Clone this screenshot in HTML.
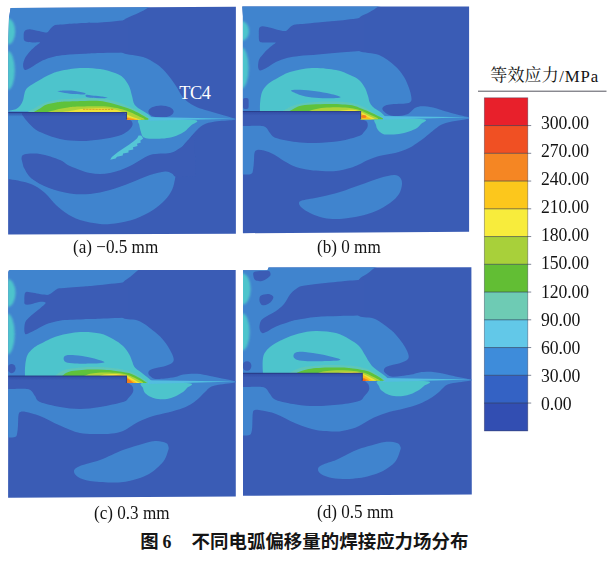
<!DOCTYPE html>
<html><head><meta charset="utf-8"><title>fig6</title>
<style>
html,body{margin:0;padding:0;background:#fff;}
body{width:615px;height:562px;overflow:hidden;position:relative;font-family:"Liberation Serif",serif;color:#111;}
svg{position:absolute;left:0;top:0;display:block}
.cap{position:absolute;white-space:nowrap;transform-origin:0 50%;font-size:18.5px;line-height:20px;height:20px;color:#141414}
.lg{position:absolute;white-space:nowrap;transform-origin:0 50%;transform:scaleX(0.95);font-size:18.6px;line-height:18px;height:18px;left:541.4px;letter-spacing:-0.1px;color:#141414}
</style></head><body>
<svg width="615" height="562" viewBox="0 0 615 562">
<defs>
<filter id="b" x="-2%" y="-2%" width="104%" height="104%"><feGaussianBlur stdDeviation="0.7"/></filter>
<linearGradient id="ug" x1="0" y1="0" x2="0" y2="1"><stop offset="0" stop-color="#2f49a2" stop-opacity="0.85"/><stop offset="1" stop-color="#2f49a2" stop-opacity="0"/></linearGradient>
<filter id="b3" x="-60%" y="-20%" width="220%" height="140%"><feGaussianBlur stdDeviation="1.3"/></filter>
<filter id="b2" x="-5%" y="-20%" width="110%" height="140%"><feGaussianBlur stdDeviation="0.75"/></filter>

<clipPath id="ca"><path d="M10.6 8.1L235.9 6.7L235.9 233.7L8.1 234.6L8.3 40L9 18Z"/></clipPath>
<clipPath id="cb"><path d="M242.3 6.5L469.1 6.5L469.1 231.8L242.9 233.2L242.9 16Z"/></clipPath>
<clipPath id="cc"><path d="M8.3 272.3Q8.3 270.1 10.5 270.1L235.7 270L235.8 496.5L8.1 497.8Z"/></clipPath>
<clipPath id="cd"><path d="M243 270.3L267.5 270.3L268.6 267.4L471.4 267.3L471.8 494.4L243 495.7Z"/></clipPath>
</defs>
<g clip-path="url(#ca)">
<rect x="6" y="4.6" width="232" height="232.1" fill="#3a5cb5"/>
<g filter="url(#b)">
<path d="M-5 -5C7.5 -35.7 43.7 -6 70 -5C96.3 -4 140.3 -1.3 153 1C165.7 3.3 149 6.8 146 9C143 11.2 138.8 12.6 135 14.5C131.2 16.4 125.8 17.9 123 20.5C120.2 23.1 118.8 25.9 118 30C117.2 34.1 117.2 41.2 118 45C118.8 48.8 118.8 51 123 53C127.2 55 137.4 55.2 143 57C148.6 58.8 152.8 61.6 156.5 64C160.2 66.4 162.5 68.9 165 71.5C167.5 74.1 169.4 76.8 171.5 79.5C173.6 82.2 175.4 85 177.3 88C179.2 91 180.8 94.9 183 97.5C185.2 100.1 188.2 102.2 190.5 103.8C192.8 105.4 194.1 106 197 107.2C199.9 108.4 204.2 109.6 208 110.8C211.8 112 215.8 113.1 220 114.3C224.2 115.5 230.2 117.3 233 118.1C235.8 118.9 237 118.7 237 119C237 119.3 236.7 119.5 233 119.9C229.3 120.3 220 120.7 215 121.5C210 122.3 206.3 123.2 203 125C199.7 126.8 197.3 129.7 195 132C192.7 134.3 191 136.7 189 139C187 141.3 184.7 142.8 183 146C181.3 149.2 180.2 154 179 158C177.8 162 176.7 166.5 176 170C175.3 173.5 175.7 175.7 175 179C174.3 182.3 173.7 186.5 172 190C170.3 193.5 168.2 196.7 165 200C161.8 203.3 158 206.8 153 210C148 213.2 141.3 216.8 135 219C128.7 221.2 120.8 222.7 115 223.5C109.2 224.3 105.8 224.6 100 224C94.2 223.4 85.7 221.8 80 220C74.3 218.2 70 215.5 66 213C62 210.5 59 207.8 56 205C53 202.2 50.7 198.7 48 196C45.3 193.3 43.3 191.2 40 189C36.7 186.8 33.3 184.7 28 183C22.7 181.3 13.5 179.7 8 179C2.5 178.3 -2.8 209.7 -5 179C-7.2 148.3 -17.5 25.7 -5 -5Z" fill="#4184ce"/>
<path d="M128 20C123.3 20.4 107.3 22.1 100 22.6C92.7 23.1 89.8 22.8 84 23.1C78.2 23.4 69.7 23.9 65.2 24.2C60.7 24.5 58.9 24.6 57 24.8C55.1 25.1 54.9 25.1 53.8 25.7C52.7 26.3 51.6 27.5 50.6 28.6C49.6 29.7 48.6 31.7 47.5 32.3C46.4 32.9 45.4 32.5 44 32.3C42.6 32.1 41.2 31.5 39 31C36.8 30.5 33.1 29.6 31 29.4C28.9 29.2 27.6 29.4 26.5 29.8C25.4 30.2 24.6 30.9 24.1 32C23.6 33.1 23.7 35.1 23.7 36.5C23.7 37.9 23.6 39.7 24.3 40.6C25 41.5 26.4 41.7 28 42C29.6 42.3 32 42.4 34 42.5C36 42.6 39.4 42.1 39.9 42.5C40.4 42.9 37.9 44.2 37 45C36.1 45.8 35.9 45.7 34.5 47C33.1 48.3 30.4 50.8 28.8 52.7C27.2 54.6 25.7 56.6 24.8 58.4C23.9 60.2 23.4 61.9 23.2 63.5C23 65.1 23.1 66.9 23.5 68C23.9 69.1 24.2 70 25.5 69.9C26.8 69.8 28.2 69 31 67.5C33.8 66 38.6 62.4 42.4 60.6C46.2 58.8 50 57.6 53.8 56.7C57.6 55.8 60.2 55.5 65.2 55C70.2 54.5 78.2 54.1 84 53.8C89.8 53.5 92.7 53.2 100 53C107.3 52.8 123.3 52.6 128 52.5Z" fill="#3a5cb5"/>
<path d="M22 112.5L22 114.5C22.7 115.4 24.3 118 26 120C27.7 122 29.7 124.5 32 126.5C34.3 128.5 35.3 129.9 40 132C44.7 134.1 53.3 137.5 60 139C66.7 140.5 73.3 140.9 80 141C86.7 141.1 93.7 140.3 100 139.5C106.3 138.7 113.3 137.4 118 136C122.7 134.6 125.6 132.8 128 131C130.4 129.2 132 126.7 132.5 125C133 123.3 132 121.5 131 120.6C130 119.7 127.2 119.9 126.5 119.8L126.5 112.5Z" fill="#3a5cb5"/>
<path d="M21.5 159C21.9 158.2 20.9 155.3 24 154.5C27.1 153.7 34 153.1 40 154C46 154.9 55 158 60 160C65 162 65 163.8 70 166C75 168.2 83.3 171.8 90 173C96.7 174.2 103.3 174.2 110 173C116.7 171.8 123.3 169 130 166C136.7 163 143.3 157.2 150 155C156.7 152.8 165 154.2 170 153C175 151.8 177.2 149.8 180 148C182.8 146.2 184.7 144.3 187 142C189.3 139.7 192.8 135.3 194 134L196 176L182 177C180.8 176.9 176.7 177.1 175 176.5C173.3 175.9 173.7 174.3 172 173.5C170.3 172.7 168.7 171.2 165 171.5C161.3 171.8 155.8 173.1 150 175C144.2 176.9 136.7 180.5 130 183C123.3 185.5 116.7 188.2 110 190C103.3 191.8 96.7 193.4 90 194C83.3 194.6 76.8 194.5 70 193.5C63.2 192.5 55.4 190.5 49 188C42.6 185.5 35.8 182 31.5 178.5C27.2 175 24.8 168.9 23.5 167Z" fill="#3a5cb5"/>
<ellipse cx="161" cy="111.6" rx="12.6" ry="6.2" fill="#3a5cb5"/>
<path d="M7 111.3C7.7 111.1 9.8 110.6 11.3 110.2C12.8 109.8 14.7 109.7 16.2 108.9C17.7 108.1 19.1 107.1 20.3 105.6C21.5 104.1 22.4 101.9 23.1 100C23.8 98.1 23.8 96.1 24.3 94.3C24.8 92.5 24.9 90.9 26 89.4C27.1 87.9 28.7 86.8 30.8 85.3C33 83.8 35.7 82.2 38.9 80.4C42.1 78.6 46.5 76.1 50 74.5C53.5 72.9 55 72.1 60 71C65 69.9 73.3 68.3 80 68C86.7 67.7 94.2 68.2 100 69C105.8 69.8 111.2 71.6 115 73C118.8 74.4 120.7 75.3 123 77.5C125.3 79.7 127.5 82.9 129 86C130.5 89.1 131.2 93.1 132 96C132.8 98.9 133 101.5 134 103.5C135 105.5 136.5 106.8 138 108C139.5 109.2 141.5 110.1 143 111C144.5 111.9 145.6 112.5 147 113.5C148.4 114.5 150.3 116 151.4 117C152.5 118 153.2 118.9 153.6 119.3L153.6 119.8L126.5 119.8L126.5 112.5Z" fill="#4ec4cc"/>
<path d="M139.5 119.5C142.9 118.5 153.2 119.3 160 119.3C166.8 119.3 173.8 119.3 180 119.6C186.2 119.8 195.2 119.8 197 120.8C198.8 121.8 193.1 123.7 191 125.5C188.9 127.3 186.8 129.9 184.6 131.5C182.4 133.1 180.2 134.1 178 135C175.8 135.9 174.2 136.6 171.5 137.2C168.8 137.8 165 138.3 162 138.6C159 138.9 156.4 138.9 153.7 138.8C151 138.7 147.8 138.6 146 138.2C144.2 137.8 143.5 137.7 142.6 136.6C141.7 135.5 141.4 133.4 140.8 131.5C140.2 129.6 139.5 127 139.3 125C139.1 123 136.1 120.5 139.5 119.5Z" fill="#4ec4cc"/>
<path d="M141.2 135.5L143.2 138.6L140.2 140.8L140.9 142.6L137 143.8L137.5 146L133 147.2L133.3 149.4L128.5 150.6L128.5 152.6L123 153.5L122.7 155.4L117 156.7L115.6 158.6L110.2 159.8L111.8 157L118 152L124 148L129.3 144.5L134 141L137.2 138.2L138.6 135.5Z" fill="#55c7d6"/>
<path d="M148 116.9L234.5 118.7L148 120.7Z" fill="#52bde0"/>
<path d="M57.6 91.3C57.6 90.9 62.1 90.6 65 90.5C67.9 90.4 71.7 90.5 75 90.9C78.3 91.3 83.3 92.4 84.8 93C86.3 93.6 85.8 94.3 84.2 94.5C82.6 94.7 78.2 94.4 75 94.1C71.8 93.8 67.9 93.4 65 92.9C62.1 92.4 57.6 91.7 57.6 91.3Z" fill="#4184ce"/>
<path d="M86 94.7C86.9 94.5 89.7 95.2 92 95.4C94.3 95.7 97.4 95.8 100 96.2C102.6 96.6 107.6 97.4 107.6 97.7C107.6 98 102.6 98.3 100 98.3C97.4 98.3 94.2 97.9 92 97.7C89.8 97.5 87.5 97.4 86.5 96.9C85.5 96.4 85.1 95 86 94.7Z" fill="#4184ce"/>
<ellipse cx="8" cy="31.5" rx="7.2" ry="13" fill="#4ec4cc" filter="url(#b3)"/>
<ellipse cx="7.6" cy="70.5" rx="7.2" ry="19.5" fill="#4ec4cc" filter="url(#b3)"/>
<g filter="url(#b2)">
<path d="M27 112.5C28.5 111.7 32.8 109.2 36 107.5C39.2 105.8 42 103.9 46 102.6C50 101.3 54.3 100.3 60 99.6C65.7 98.9 73.3 98.5 80 98.4C86.7 98.3 94.7 98.4 100 98.8C105.3 99.2 108 99.7 112 100.6C116 101.5 120.3 103 124 104.4C127.7 105.8 131 107.3 134 108.8C137 110.3 139.4 111.6 142 113.2C144.6 114.8 148.2 117.5 149.5 118.4L149.5 119.8L126.5 119.8L126.5 112.5L27 112.5Z" fill="#5fc7b8"/>
<path d="M33 112.5C34.2 111.8 37.8 109.7 40 108.4C42.2 107.1 43.3 105.8 46 104.8C48.7 103.8 52.8 103.1 56 102.6C59.2 102.1 60.7 101.9 65.5 101.6C70.3 101.3 79.2 101 85 100.9C90.8 100.8 95.9 100.7 100 101C104.1 101.3 105.8 101.9 109.5 102.8C113.2 103.7 118.6 105.2 122.5 106.4C126.4 107.6 129.8 108.8 133 110.2C136.2 111.6 139.4 113.5 142 114.9C144.6 116.3 147.2 118 148.3 118.6L148.3 119.8L126.5 119.8L126.5 112.5L33 112.5Z" fill="#5fc23a"/>
<path d="M46 112.5C47 112.2 49.8 111.4 52 110.8C54.2 110.2 56.3 109.5 59 108.9C61.7 108.3 64.8 107.8 68 107.4C71.2 107 73.2 106.8 78.5 106.6C83.8 106.4 94.4 106.2 100 106.3C105.6 106.4 108.3 106.7 112 107.2C115.7 107.7 118.8 108.3 122 109.2C125.2 110.1 128.3 111.3 131 112.4C133.7 113.5 135.8 114.7 138 115.8C140.2 116.9 143.4 118.4 144.5 118.9L144.5 119.8L126.5 119.8L126.5 112.5L46 112.5Z" fill="#aed338"/>
<path d="M60 112.5C61 112.3 63.8 111.9 66 111.6C68.2 111.2 69.8 110.9 73 110.4C76.2 109.9 80.5 109.2 85 108.8C89.5 108.4 95.8 108.2 100 108.2C104.2 108.2 107 108.4 110 108.7C113 109 115.7 109.6 118 110.3C120.3 111 122.2 111.8 124 112.7C125.8 113.6 127.3 114.6 129 115.4C130.7 116.2 132 116.7 134 117.4C136 118.1 139.8 119.1 141 119.4L141 119.8L126.5 119.8L126.5 112.5L60 112.5Z" fill="#efe338"/>
<path d="M126.4 116.4C127 116.6 128.7 117.1 130 117.5C131.3 117.9 132.7 118.2 134 118.6C135.3 118.9 137.3 119.4 138 119.6L138 119.8L126.5 119.8L126.5 112.5L126.4 112.5Z" fill="#fbbf1c"/>
<path d="M126.4 117.9C127 118 128.7 118.2 130 118.4C131.3 118.6 133 119 134 119.2C135 119.4 135.7 119.6 136 119.7L136 119.8L126.5 119.8L126.5 112.5L126.4 112.5Z" fill="#f3801f"/>
</g>
<path d="M83 109.3L114 109.5" stroke="#cf8a22" stroke-width="0.9" stroke-dasharray="2.4 0.7" fill="none" opacity="0.8"/>
</g>
<rect x="8.2" y="112.5" width="118.3" height="4.2" fill="url(#ug)"/>
<path d="M8.2 112.5L126.5 112.5L126.5 119.8" fill="none" stroke="#283a86" stroke-width="1.1" stroke-opacity="0.9"/>
</g>
<g clip-path="url(#cb)">
<rect x="240.2" y="4.4" width="231" height="230.9" fill="#3a5cb5"/>
<g filter="url(#b)">
<path d="M230 -5C241.7 -34.9 274.7 -6 300 -5C325.3 -4 369.3 -1.2 382 1C394.7 3.2 378.3 6 376 8C373.7 10 370.8 11.3 368 13C365.2 14.7 361.3 15.2 359 18C356.7 20.8 354.8 26 354 30C353.2 34 353.2 38.5 354 42C354.8 45.5 354.8 48.8 359 51C363.2 53.2 373 52.5 379 55C385 57.5 390.8 62.3 395 66C399.2 69.7 401.7 73.3 404 77C406.3 80.7 407.8 84.7 409 88C410.2 91.3 411 94.7 411.3 97C411.6 99.3 411.7 100.7 410.6 101.8C409.6 102.9 408.1 103.2 405 103.6C401.9 104 395.2 103.9 392 104.2C388.8 104.5 387.1 104.7 385.5 105.4C383.9 106.1 382.6 107.3 382.4 108.3C382.1 109.3 383.1 110.6 384 111.6C384.9 112.6 386.4 113.8 388 114.5C389.6 115.2 391.3 115.9 393.5 116.1C395.7 116.3 398.8 116 401.2 115.7C403.6 115.4 406.2 114.8 408 114C409.8 113.2 410.7 111.7 412 110.6C413.3 109.5 414.3 108.3 416 107.6C417.7 106.9 419.2 106.3 422 106.3C424.8 106.3 429.2 106.8 433 107.6C436.8 108.4 441 110.2 445 111.3C449 112.4 453.3 113.5 457 114.4C460.7 115.3 464.7 116.2 467 116.8C469.3 117.4 471 117.6 471 118C471 118.4 469.7 118.5 467 119C464.3 119.5 459 120.2 455 121C451 121.8 446.3 122.7 443 124C439.7 125.3 437.3 127.3 435 129C432.7 130.7 431.5 132 429 134C426.5 136 423.3 138.7 420 141C416.7 143.3 413.2 146 409 148C404.8 150 400 151.7 395 153C390 154.3 383.5 154.8 379 156C374.5 157.2 371.3 158.6 368 160C364.7 161.4 362 163.2 359 164.5C356 165.8 353.8 166.9 350 168C346.2 169.1 340.7 170.5 336 171C331.3 171.5 326.3 171.2 322 171C317.7 170.8 314.3 170.7 310 170C305.7 169.3 300.3 168.5 296 167C291.7 165.5 287.7 163.1 284 161C280.3 158.9 277.3 156.2 274 154.5C270.7 152.8 266.8 151.2 264 150.5C261.2 149.8 258.6 149.6 257 150C255.4 150.4 255 151.3 254.5 153C254 154.7 254.2 157.2 254 160C253.8 162.8 253.5 167.7 253 170C252.5 172.3 252.8 173.2 251 174C249.2 174.8 245.5 174.4 242 174.5C238.5 174.6 232 204.4 230 174.5C228 144.6 218.3 24.9 230 -5Z" fill="#4184ce"/>
<path d="M364 17.5C360 18 347.7 19.7 340 20.5C332.3 21.3 323.9 22 318 22.5C312.1 23 308.4 23.4 304.9 23.7C301.4 24 298.9 24.1 297 24.3C295.1 24.5 294.6 24.7 293.5 25.1C292.4 25.5 291.5 26 290.5 26.8C289.5 27.6 288.6 29 287.6 29.7C286.6 30.4 286.3 31.1 284.4 31C282.5 30.9 279.2 30 276.4 29.4C273.5 28.8 269.8 27.6 267.3 27.1C264.8 26.6 262.9 26.2 261.5 26.4C260.1 26.6 259.6 27.1 259.1 28.4C258.7 29.7 258.8 32 258.8 34C258.8 36 258.7 39 259.1 40.4C259.6 41.8 260 41.9 261.5 42.3C263 42.7 265.6 42.5 268 42.6C270.4 42.7 274.9 42.2 275.6 42.6C276.4 43 273.5 44.5 272.5 45.3C271.5 46.1 271 46.3 269.6 47.6C268.2 48.9 265.6 51.3 263.9 53.2C262.2 55.1 260.3 57.1 259.4 58.9C258.4 60.7 258.4 62.4 258.2 64C258 65.6 258 67.4 258.4 68.5C258.8 69.6 259 70.5 260.3 70.4C261.6 70.3 263.5 69.4 266.2 68C268.9 66.6 272.8 63.5 276.4 61.8C280 60.1 284 58.8 287.8 57.8C291.6 56.8 294.2 56.5 299.2 55.9C304.2 55.3 311.2 55 318 54.4C324.8 53.8 332.3 53.1 340 52.5C347.7 51.9 360 51.1 364 50.8Z" fill="#3a5cb5"/>
<path d="M236 111.5L236 126L250 126C252 126 259.2 125.7 262 126C264.8 126.3 265.2 126.8 266.5 128C267.8 129.2 268.4 131.3 270 133C271.6 134.7 271.7 136.5 276 138C280.3 139.5 289.3 141.2 296 142C302.7 142.8 308.7 143.2 316 143C323.3 142.8 332.8 142.2 340 141C347.2 139.8 355 137.5 359 136C363 134.5 362.6 133.5 364 132C365.4 130.5 367 128.7 367.5 127C368 125.3 367.8 123.2 367 122C366.2 120.8 363.7 120 363 119.6L360.6 119.2L360.6 111.5Z" fill="#3a5cb5"/>
<path d="M299 203C299.2 201.8 299.5 201.3 303 200.3C306.5 199.3 313.8 198.4 320 197C326.2 195.6 333.3 194 340 192C346.7 190 353.3 187.3 360 185C366.7 182.7 374.3 179.7 380 178C385.7 176.3 390.7 175.1 394 175C397.3 174.9 398.7 176.1 400 177.6C401.3 179.1 402.2 181.3 402 184C401.8 186.7 401 190.8 399 194C397 197.2 393.8 200.2 390 203C386.2 205.8 381 208.8 376 211C371 213.2 366 214.7 360 216C354 217.3 346 218.7 340 219C334 219.3 329 219 324 218C319 217 313.8 214.8 310 213C306.2 211.2 303.3 209.2 301.5 207.5C299.7 205.8 298.8 204.2 299 203Z" fill="#4184ce"/>
<path d="M260 111.5C260 110.2 259.8 106.6 260 104C260.2 101.4 260.5 98.3 261 96C261.5 93.7 261.8 92 263 90C264.2 88 265.8 85.8 268 84C270.2 82.2 272.3 81 276 79C279.7 77 284 73.8 290 72C296 70.2 304.3 68.3 312 68C319.7 67.7 329.7 68.8 336 70C342.3 71.2 346.2 73.3 350 75C353.8 76.7 356.5 77.8 359 80C361.5 82.2 363.5 85.3 365 88C366.5 90.7 367.2 93.7 368 96C368.8 98.3 368.8 100.2 369.5 102C370.2 103.8 371.3 105.2 372.5 106.5C373.7 107.8 375.2 108.6 376.5 109.5C377.8 110.4 379.1 110.9 380.5 112C381.9 113.1 383.6 114.9 384.6 116C385.6 117.1 386.3 118.2 386.6 118.6L386.6 119.2L360.6 119.2L360.6 111.5Z" fill="#4ec4cc"/>
<path d="M376 118.5C380 117.4 391.8 118 400 118.2C408.2 118.4 421.5 118.5 425 119.5C428.5 120.5 422.3 122.6 421 124C419.7 125.4 419 126.8 417 128C415 129.2 412 130.5 409 131.5C406 132.5 402.3 133.5 399 134C395.7 134.5 391.7 134.5 389 134.5C386.3 134.5 384.8 134.8 383 134C381.2 133.2 379.2 131.5 378 130C376.8 128.5 376.3 126.9 376 125C375.7 123.1 372 119.6 376 118.5Z" fill="#4ec4cc"/>
<path d="M380 116L469.5 117.3L380 119.8Z" fill="#52bde0"/>
<path d="M291 90.6C291 89.7 295.8 89.7 300 89.8C304.2 89.9 311 90.5 316 91.2C321 91.9 325.9 92.8 330 93.8C334.1 94.8 340.8 96.5 340.5 97.2C340.2 98 332.8 98.2 328 98.3C323.2 98.4 316.7 98.1 312 97.6C307.3 97 303.5 96.2 300 95C296.5 93.8 291 91.5 291 90.6Z" fill="#4184ce"/>
<ellipse cx="241.4" cy="31" rx="7.6" ry="10" fill="#4ec4cc" filter="url(#b3)"/>
<ellipse cx="241.4" cy="68" rx="7.2" ry="20.5" fill="#4ec4cc" filter="url(#b3)"/>
<rect x="243" y="98" width="5.6" height="11" rx="2" fill="#3a5cb5"/>
<g filter="url(#b2)">
<path d="M282 111.5C283.3 110.8 287 108.3 290 107C293 105.7 295.7 104.6 300 103.8C304.3 103 310 102.4 316 102C322 101.6 330.3 101.5 336 101.6C341.7 101.7 346 102.1 350 102.8C354 103.5 357 104.5 360 105.6C363 106.7 365.5 108.1 368 109.4C370.5 110.8 372.6 112.3 375 113.7C377.4 115.1 381.2 117.3 382.5 118L382.5 119.2L360.6 119.2L360.6 111.5L282 111.5Z" fill="#5fc7b8"/>
<path d="M289 111.5C290 110.9 292.8 109 295 108C297.2 107 298.5 106.1 302 105.5C305.5 104.9 310.8 104.5 316 104.3C321.2 104 328.6 104 333.4 104C338.2 104 341.5 104.3 345 104.6C348.5 104.9 351.3 105.1 354.6 106C357.9 106.9 361.9 108.8 365 110C368.1 111.2 370 112.1 373 113.5C376 114.9 381.3 117.6 383 118.4L383 119.2L360.6 119.2L360.6 111.5L289 111.5Z" fill="#5fc23a"/>
<path d="M307 111.5C308.2 111.2 311.2 110 314 109.4C316.8 108.8 320.3 108.2 324 107.8C327.7 107.4 332 107.2 336 107.2C340 107.2 344.3 107.4 348 107.8C351.7 108.2 355 108.8 358 109.6C361 110.4 363.7 111.8 366 112.8C368.3 113.8 370 114.7 372 115.6C374 116.5 377 117.9 378 118.4L378 119.2L360.6 119.2L360.6 111.5L307 111.5Z" fill="#aed338"/>
<path d="M337 111.5C337.8 111.3 340.3 110.7 342 110.4C343.7 110.1 345.3 110 347 109.9C348.7 109.8 350.2 109.7 352 109.8C353.8 109.9 356 110.2 358 110.8C360 111.4 362.2 112.5 364 113.4C365.8 114.3 367.2 115.1 369 116C370.8 116.9 373.6 118.2 374.5 118.6L374.5 119.2L360.6 119.2L360.6 111.5L337 111.5Z" fill="#efe338"/>
<path d="M353 111.5C353.5 111.4 355 111 356 111C357 111 358.2 110.9 359 111.4C359.8 111.9 360.2 113.2 361 113.8C361.8 114.4 362.8 114.6 364 115.2C365.2 115.8 366.8 116.7 368 117.3C369.2 117.9 370.9 118.6 371.5 118.9L371.5 119.2L360.6 119.2L360.6 111.5L353 111.5Z" fill="#fbbf1c"/>
</g>
<ellipse cx="363.8" cy="116.4" rx="2.7" ry="1.5" fill="#f3801f" filter="url(#b2)"/>
</g>
<rect x="242.6" y="111.5" width="118" height="4.2" fill="url(#ug)"/>
<path d="M242.6 111.5L360.6 111.5L360.6 119.2" fill="none" stroke="#283a86" stroke-width="1.1" stroke-opacity="0.9"/>
</g>
<g clip-path="url(#cc)">
<rect x="6" y="267.9" width="231.9" height="232" fill="#3a5cb5"/>
<g filter="url(#b)">
<path d="M-5 262C7.5 232.8 45.3 261.7 70 262C94.7 262.3 131.8 262.5 143 264C154.2 265.5 139.2 268.8 137 271C134.8 273.2 132.3 275.1 130 277C127.7 278.9 125 279.7 123 282.5C121 285.3 118.8 289.8 118 294C117.2 298.2 117.2 304 118 308C118.8 312 119.5 315.8 123 318C126.5 320.2 133.7 318.7 139 321C144.3 323.3 150.8 328.7 155 332C159.2 335.3 161.5 338 164 341C166.5 344 168.4 347.2 170 350C171.6 352.8 173.1 355.9 173.5 358C173.9 360.1 173.8 361.2 172.5 362.5C171.2 363.8 168.8 364.9 166 365.8C163.2 366.7 158.7 367.3 156 368C153.3 368.7 151.3 369.2 150 370C148.7 370.8 148.3 372 148.3 373C148.3 374 148.8 375 150 376C151.2 377 152.7 378.5 155.2 378.9C157.7 379.3 161.8 378.8 165.2 378.5C168.5 378.2 172.3 377.8 175.3 377.1C178.3 376.4 179.8 375.1 183.4 374.5C187 373.9 192.6 373.6 197 373.8C201.4 374.1 205.8 375.2 210 376C214.2 376.8 218.3 377.8 222 378.6C225.7 379.4 229.5 380 232 380.6C234.5 381.2 237 381.6 237 382C237 382.4 236 382.3 232 383C228 383.7 217.5 384.5 213 386C208.5 387.5 207.3 390 205 392C202.7 394 201.2 396.1 199 398C196.8 399.9 194.7 401.8 192 403.5C189.3 405.2 187 406.5 183 408C179 409.5 173 411.2 168 412.5C163 413.8 158 414.4 153 416C148 417.6 143 419.5 138 422C133 424.5 127.3 429.1 123 431C118.7 432.9 115.8 433 112 433.5C108.2 434 105.3 434.1 100 434C94.7 433.9 86.7 434.4 80 433C73.3 431.6 66.7 428.3 60 425.5C53.3 422.7 45.7 418.2 40 416C34.3 413.8 29.2 412.7 26 412C22.8 411.3 21.8 411.5 20.5 412C19.2 412.5 18.9 412.8 18.5 415C18.1 417.2 18.2 421.8 18 425C17.8 428.2 17.5 432 17 434C16.5 436 16.5 436.4 15 437C13.5 437.6 11.3 437.4 8 437.5C4.7 437.6 -2.8 466.8 -5 437.5C-7.2 408.2 -17.5 291.2 -5 262Z" fill="#4184ce"/>
<path d="M128 282C123.3 282.5 107.3 284.2 100 285C92.7 285.8 89 286.1 84 286.5C79 286.9 74.1 287.1 70 287.4C65.9 287.7 61.9 287.9 59.5 288.3C57.1 288.7 56.7 289.3 55.5 290C54.3 290.7 53.4 291.8 52.2 292.6C51 293.4 49.9 294.5 48.5 294.8C47.1 295.1 46 294.8 44 294.6C42 294.4 39.1 293.8 36.8 293.4C34.5 293 31.8 292.4 30 292.2C28.2 291.9 27.1 291.6 26.2 291.9C25.3 292.2 25 292.6 24.7 294C24.4 295.4 24.3 298.3 24.4 300C24.4 301.7 23.9 303.6 25 304.3C26.1 305 28.7 304.7 31 304.3C33.3 303.9 36.6 302.3 39 302C41.4 301.7 45.3 301.8 45.6 302.7C45.9 303.6 42.5 306.1 41 307.5C39.5 308.9 38.6 309.5 36.8 311C34.9 312.5 31.8 314.9 29.9 316.7C28 318.4 26.5 319.8 25.6 321.5C24.7 323.2 24.6 325.2 24.4 327C24.2 328.8 24.3 331.2 24.6 332.4C24.9 333.6 25.3 334.3 26.2 334.3C27.1 334.3 28.2 333.5 30 332.6C31.8 331.8 33.8 330.7 36.8 329.2C39.8 327.7 44.3 325 48.1 323.6C51.9 322.2 55.9 321.3 59.5 320.7C63.1 320.1 65.9 320.1 70 319.8C74.1 319.6 79 319.4 84 319.2C89 319 92.7 319.1 100 318.8C107.3 318.5 123.3 317.8 128 317.6Z" fill="#3a5cb5"/>
<path d="M0 376L0 389L15 389C17 389 24.2 388.7 27 389C29.8 389.3 30.2 389.8 31.5 391C32.8 392.2 33.6 394.2 35 396C36.4 397.8 35.8 400.2 40 402C44.2 403.8 53.3 405.8 60 407C66.7 408.2 73.3 409 80 409C86.7 409 92.8 408.2 100 407C107.2 405.8 118.2 403.5 123 402C127.8 400.5 126.8 399.7 128.5 398C130.2 396.3 132.3 393.9 133 392C133.7 390.1 133.2 387.9 132.5 386.5C131.8 385.1 129.6 383.9 129 383.4L126.5 383L126.5 376Z" fill="#3a5cb5"/>
<path d="M74 471C74.3 469.2 75.7 467.8 80 466C84.3 464.2 92.8 462.7 100 460C107.2 457.3 116.5 452.5 123 450C129.5 447.5 133.7 446.5 139 445C144.3 443.5 150.5 441.3 155 441C159.5 440.7 163.8 442 166 443C168.2 444 168.2 445.7 168.5 447C168.8 448.3 168.9 448.5 168 451C167.1 453.5 166.2 458.2 163 462C159.8 465.8 154 471 149 474C144 477 137.3 478.7 133 480C128.7 481.3 126.8 481.6 123 482C119.2 482.4 115.5 482.7 110 482.5C104.5 482.3 95.3 481.9 90 481C84.7 480.1 80.7 478.7 78 477C75.3 475.3 73.7 472.8 74 471Z" fill="#4184ce"/>
<path d="M25 376C25 374.7 24.8 370.7 25 368C25.2 365.3 25.5 362.3 26 360C26.5 357.7 26.8 355.9 28 354C29.2 352.1 31 350.2 33 348.5C35 346.8 35.8 346.1 40 344C44.2 341.9 51.3 338 58 336C64.7 334 73 332.4 80 332C87 331.6 94.5 332.3 100 333.5C105.5 334.7 109.2 336.9 113 339C116.8 341.1 120.3 343.5 123 346C125.7 348.5 127.5 351.5 129 354C130.5 356.5 131.1 358.8 132 361C132.9 363.2 133.2 365.2 134.5 367C135.8 368.8 138.1 370.1 140 371.6C141.9 373.1 143.9 374.6 145.7 376C147.5 377.4 149.3 378.9 150.6 380C151.9 381.1 153 382.3 153.5 382.8L153.5 383L126.5 383L126.5 376Z" fill="#4ec4cc"/>
<path d="M142 383C145.7 382.1 156.8 382.5 165 382.6C173.2 382.7 187.3 382.7 191 383.6C194.7 384.5 188.3 386.6 187 388C185.7 389.4 185 390.6 183 392C181 393.4 177.7 395.3 175 396.5C172.3 397.7 169.8 398.6 167 399C164.2 399.4 160.7 399.3 158 399C155.3 398.7 153.2 398 151 397C148.8 396 146.3 394.5 145 393C143.7 391.5 143.5 389.7 143 388C142.5 386.3 138.3 383.9 142 383Z" fill="#4ec4cc"/>
<path d="M148 380.2L235.5 381.6L148 384Z" fill="#52bde0"/>
<path d="M63.6 358.5C63.6 357.4 64.1 355.9 66 355.4C67.9 354.8 71 354.8 75 355.2C79 355.6 85.1 356.3 90 357.5C94.9 358.7 104.5 361.2 104.5 362.2C104.5 363.2 94.9 363.4 90 363.6C85.1 363.8 79 363.6 75 363.4C71 363.2 67.9 363 66 362.2C64.1 361.4 63.6 359.6 63.6 358.5Z" fill="#4184ce"/>
<ellipse cx="7.3" cy="293" rx="8.2" ry="14" fill="#4ec4cc" filter="url(#b3)"/>
<ellipse cx="7.3" cy="334" rx="7.4" ry="20.5" fill="#4ec4cc" filter="url(#b3)"/>
<ellipse cx="11.6" cy="368.6" rx="4" ry="4.6" fill="#3a5cb5"/>
<g filter="url(#b2)">
<path d="M55 376C56.2 375.2 59.2 372.3 62 371C64.8 369.7 66.8 369.1 72 368.4C77.2 367.7 86 367 93 367C100 367 108.2 367.5 114 368.2C119.8 368.9 124.2 369.9 128 371C131.8 372.1 133.8 373 137 374.8C140.2 376.6 145.8 380.8 147.5 382L147.5 383L126.5 383L126.5 376L55 376Z" fill="#5fc7b8"/>
<path d="M62 376C62.7 375.5 64.4 373.9 66 373C67.6 372.1 69 371.4 71.7 370.9C74.4 370.4 78.5 370.1 82 369.9C85.5 369.7 89.3 369.5 93 369.5C96.7 369.5 100.5 369.6 104 369.8C107.5 370 109.9 370.1 114 370.7C118.1 371.2 124.8 372 128.8 373.1C132.8 374.2 135.1 375.7 138 377.2C140.9 378.7 145.1 381.4 146.5 382.3L146.5 383L126.5 383L126.5 376L62 376Z" fill="#5fc23a"/>
<path d="M84 376C85 375.6 87.7 374.3 90 373.8C92.3 373.3 95.2 373 98 372.8C100.8 372.6 103.7 372.4 107 372.5C110.3 372.6 114.5 372.7 118 373.1C121.5 373.5 125 374.2 128 375.1C131 376 133.5 377.4 136 378.6C138.5 379.8 141.8 381.8 143 382.4L143 383L126.5 383L126.5 376L84 376Z" fill="#aed338"/>
<path d="M99 376C100 375.8 103 374.9 105 374.6C107 374.3 108.8 374.2 111 374.1C113.2 374 115.5 373.9 118 374.2C120.5 374.4 123.7 374.9 126 375.6C128.3 376.3 129.8 377.2 132 378.4C134.2 379.6 138.2 381.9 139.5 382.6L139.5 383L126.5 383L126.5 376L99 376Z" fill="#efe338"/>
<path d="M112 376C112.7 375.9 114.5 375.3 116 375.2C117.5 375.1 119.4 375 121 375.1C122.6 375.2 124.2 375.4 125.5 376C126.8 376.6 127.8 377.6 129 378.4C130.2 379.2 131.8 379.9 133 380.6C134.2 381.3 135.9 382.4 136.5 382.7L136.5 383L126.5 383L126.5 376L112 376Z" fill="#fbbf1c"/>
<path d="M126.5 378C126.9 378.2 128.2 378.9 129 379.4C129.8 379.9 130.8 380.6 131.5 381.2C132.2 381.8 133.2 382.5 133.5 382.8L133.5 383L126.5 383L126.5 376L126.5 376Z" fill="#f3801f"/>
</g>
</g>
<rect x="8.2" y="376" width="118.3" height="4.2" fill="url(#ug)"/>
<path d="M8.2 376L126.5 376L126.5 383" fill="none" stroke="#283a86" stroke-width="1.1" stroke-opacity="0.9"/>
</g>
<g clip-path="url(#cd)">
<rect x="240.9" y="265.2" width="233" height="232.6" fill="#3a5cb5"/>
<g filter="url(#b)">
<path d="M230 260C241.7 230.8 275.2 259.7 300 260C324.8 260.3 366.8 260.5 379 262C391.2 263.5 375.2 266.9 373 269C370.8 271.1 368.3 272.8 366 274.5C363.7 276.2 361 276.8 359 279.5C357 282.2 354.8 286.6 354 291C353.2 295.4 353.2 301.8 354 306C354.8 310.2 355.5 313.8 359 316C362.5 318.2 369.7 316.7 375 319C380.3 321.3 387 326.8 391 330C395 333.2 396.7 335.7 399 338.5C401.3 341.3 403.4 344.2 405 347C406.6 349.8 408.1 352.9 408.5 355C408.9 357.1 408.8 358.2 407.5 359.5C406.2 360.8 403.6 361.9 401 362.8C398.4 363.7 394.5 364.3 392 365C389.5 365.7 387.4 366.1 386 367C384.6 367.9 383.9 369.2 383.8 370.2C383.7 371.2 384.3 372.1 385.5 373.2C386.7 374.2 388.6 376 391.2 376.5C393.8 377 397.8 376.4 401.2 376.1C404.6 375.8 408.3 375.2 411.3 374.6C414.3 374 415.8 372.8 419.4 372.4C423 371.9 428.4 371.6 433 371.9C437.6 372.2 442.8 373.5 447 374.4C451.2 375.2 454.5 376.2 458 377C461.5 377.8 465.5 378.5 468 379C470.5 379.5 473 379.7 473 380C473 380.3 472 380.3 468 381C464 381.7 453.2 382.8 449 384C444.8 385.2 444.7 386.7 443 388C441.3 389.3 441.2 390.2 439 392C436.8 393.8 433.3 396.5 430 398.5C426.7 400.5 423.3 402.3 419 404C414.7 405.7 409 407.2 404 408.5C399 409.8 394 410.5 389 412C384 413.5 379 415.2 374 417.5C369 419.8 363.5 423.9 359 426C354.5 428.1 350.8 429.1 347 430C343.2 430.9 341.2 431.5 336 431.5C330.8 431.5 322.7 431.3 316 430C309.3 428.7 302.7 426.2 296 423.5C289.3 420.8 281.7 416.2 276 414C270.3 411.8 265.5 411.2 262 410.5C258.5 409.8 256.5 409.6 255 410C253.5 410.4 253.2 410.5 252.8 413C252.4 415.5 252.5 421.8 252.3 425C252.1 428.2 252 430.3 251.5 432C251 433.7 250.9 434.4 249.5 435C248.1 435.6 246.2 435.4 243 435.5C239.8 435.6 232.2 464.8 230 435.5C227.8 406.2 218.3 289.2 230 260Z" fill="#4184ce"/>
<path d="M364 279.5C360.8 279.8 350.7 280.5 345 281C339.3 281.5 334.8 282 330 282.5C325.2 283 320.7 283.4 316 284C311.3 284.6 305.3 285.2 302 286C298.7 286.8 298 287.6 296 289C294 290.4 292 292 290 294.5C288 297 286.3 301.2 284 304C281.7 306.8 278.7 309.1 276 311C273.3 312.9 270.3 314.1 268 315.5C265.7 316.9 263.4 318.1 262 319.5C260.6 320.9 260.2 322.4 259.8 324C259.4 325.6 259.3 327.6 259.6 329C259.9 330.4 260.6 332 261.5 332.6C262.4 333.2 262.6 333.6 265 332.6C267.4 331.6 272.5 328.1 276 326.5C279.5 324.9 282.7 324.1 286 323C289.3 321.9 291 321 296 320C301 319 308.7 317.7 316 317C323.3 316.3 332 316.2 340 316C348 315.8 360 315.7 364 315.6Z" fill="#3a5cb5"/>
<path d="M254 272C255.4 271 259.5 271.2 262 271C264.5 270.8 267.6 270.3 269 271C270.4 271.7 270.8 273.8 270.5 275C270.2 276.2 268.4 277.5 267 278.5C265.6 279.5 263.8 280.6 262 281C260.2 281.4 257.4 281.3 256 280.6C254.6 279.9 253.9 278.4 253.6 277C253.3 275.6 252.6 273 254 272Z" fill="#3a5cb5"/>
<path d="M260 296.5C260.7 295.4 262.5 295 264 294.6C265.5 294.2 267.5 293.7 269 294C270.5 294.3 272.7 295.5 273.2 296.6C273.7 297.7 272.9 299.3 272 300.5C271.1 301.7 269.6 303.2 268 304C266.4 304.8 263.9 305.6 262.5 305.2C261.1 304.8 260 302.9 259.6 301.5C259.2 300.1 259.3 297.6 260 296.5Z" fill="#3a5cb5"/>
<path d="M236 373.4L236 387L250 387C252 387 259.2 386.7 262 387C264.8 387.3 265.2 387.8 266.5 389C267.8 390.2 268.4 392.2 270 394C271.6 395.8 271.7 398.2 276 400C280.3 401.8 289.3 403.5 296 404.5C302.7 405.5 308.7 406 316 406C323.3 406 332.8 405.3 340 404.5C347.2 403.7 354.9 402.4 359 401C363.1 399.6 362.8 397.8 364.5 396C366.2 394.2 368.3 391.9 369 390C369.7 388.1 369.2 386 368.5 384.5C367.8 383 365.6 381.8 365 381.2L362.3 380.7L362.3 373.4Z" fill="#3a5cb5"/>
<path d="M318 469C318.2 467.5 319 466.5 322 465C325 463.5 331.7 461.8 336 460C340.3 458.2 344.2 455.8 348 454C351.8 452.2 355.2 450.4 359 449C362.8 447.6 366.7 446.7 371 445.5C375.3 444.3 380.7 442.4 385 442C389.3 441.6 394.4 442.2 397 443C399.6 443.8 400 445.7 400.5 447C401 448.3 400.9 448.5 400 451C399.1 453.5 397.8 458.7 395 462C392.2 465.3 387.3 468.7 383 471C378.7 473.3 373 474.8 369 476C365 477.2 362.8 477.5 359 478C355.2 478.5 350.5 479 346 479C341.5 479 336.2 478.8 332 478C327.8 477.2 323.3 475.5 321 474C318.7 472.5 317.8 470.5 318 469Z" fill="#4184ce"/>
<path d="M263 373.4C262.9 372.2 262.6 368.6 262.6 366C262.6 363.4 262.6 360.2 263 358C263.4 355.8 263.8 354.3 265 352.5C266.2 350.7 267.5 348.9 270 347C272.5 345.1 275.3 343 280 340.8C284.7 338.6 292 335.4 298 333.8C304 332.2 309.7 331.1 316 331C322.3 330.9 330.5 331.7 336 333C341.5 334.3 345.2 336.8 349 339C352.8 341.2 356.3 343.3 359 346C361.7 348.7 363.4 352.5 365 355C366.6 357.5 367.3 359.2 368.5 361C369.7 362.8 370.6 364.5 372 366C373.4 367.5 375.1 368.7 376.8 370C378.6 371.3 380.7 372.7 382.5 374C384.3 375.3 386.1 376.9 387.4 378C388.7 379.1 390 380.1 390.5 380.5L390.5 380.7L362.3 380.7L362.3 373.4Z" fill="#4ec4cc"/>
<path d="M378 381C381.5 380.1 391.5 380.5 400 380.6C408.5 380.7 425 380.7 429 381.6C433 382.5 425.7 384.6 424 386C422.3 387.4 421.2 388.7 419 390C416.8 391.3 413.7 393 411 394C408.3 395 405.8 395.7 403 396C400.2 396.3 396.7 396.3 394 396C391.3 395.7 389.2 395 387 394C384.8 393 382.3 391.3 381 390C379.7 388.7 379.5 387.5 379 386C378.5 384.5 374.5 381.9 378 381Z" fill="#4ec4cc"/>
<path d="M383 378.1L471.6 379.4L383 381.9Z" fill="#52bde0"/>
<path d="M293.4 355.8C293.4 354.6 294.1 353 296 352.4C297.9 351.8 300.7 351.6 305 352C309.3 352.4 316.1 353.3 322 354.6C327.9 355.9 340.5 358.7 340.5 359.8C340.5 360.9 327.9 361 322 361.2C316.1 361.4 309.3 361.2 305 360.9C300.7 360.6 297.9 360.2 296 359.4C294.1 358.5 293.4 357 293.4 355.8Z" fill="#4184ce"/>
<ellipse cx="242.4" cy="289" rx="8.2" ry="15.5" fill="#4ec4cc" filter="url(#b3)"/>
<ellipse cx="242.4" cy="332" rx="7.2" ry="18.5" fill="#4ec4cc" filter="url(#b3)"/>
<ellipse cx="247" cy="366" rx="4.4" ry="4.8" fill="#3a5cb5"/>
<g filter="url(#b2)">
<path d="M289 373.4C290.2 372.8 293.2 370.7 296 369.6C298.8 368.5 300.7 367.6 306 366.8C311.3 366 320.8 365.2 328 365C335.2 364.8 343 365.1 349 365.6C355 366.1 359.8 367.1 364 368.2C368.2 369.3 370.5 370.5 374 372.4C377.5 374.3 383.2 378.6 385 379.8L385 380.7L362.3 380.7L362.3 373.4L289 373.4Z" fill="#5fc7b8"/>
<path d="M296 373.4C296.7 373.1 298.2 372.2 300 371.6C301.8 371 304 370.2 306.7 369.6C309.4 369 312.4 368.5 316 368.1C319.6 367.8 324 367.6 328 367.5C332 367.4 336.5 367.4 340 367.5C343.5 367.6 344.7 367.5 349 368C353.3 368.5 361.7 369.6 366 370.7C370.3 371.8 372.1 373.1 375 374.7C377.9 376.2 382.1 379.1 383.5 380L383.5 380.7L362.3 380.7L362.3 373.4L296 373.4Z" fill="#5fc23a"/>
<path d="M317 373.4C318 373.1 320.5 372.1 323 371.6C325.5 371.1 328.7 370.8 332 370.6C335.3 370.4 339.3 370.2 343 370.3C346.7 370.4 350.5 370.5 354 370.9C357.5 371.3 361 371.9 364 372.8C367 373.7 369.3 375 372 376.2C374.7 377.4 378.7 379.5 380 380.2L380 380.7L362.3 380.7L362.3 373.4L317 373.4Z" fill="#aed338"/>
<path d="M336 373.4C336.8 373.2 339.3 372.6 341 372.4C342.7 372.2 344.2 372.1 346 372C347.8 371.9 349.7 371.9 352 372.1C354.3 372.3 357.5 372.5 360 373.1C362.5 373.7 364.3 374.6 367 375.8C369.7 377 374.5 379.6 376 380.4L376 380.7L362.3 380.7L362.3 373.4L336 373.4Z" fill="#efe338"/>
<path d="M349 373.4C349.7 373.3 351.7 373 353 372.9C354.3 372.8 355.6 372.8 357 372.9C358.4 373 360.2 373.3 361.5 373.8C362.8 374.3 363.8 375.2 365 376C366.2 376.8 367.8 377.6 369 378.4C370.2 379.1 371.9 380.1 372.5 380.5L372.5 380.7L362.3 380.7L362.3 373.4L349 373.4Z" fill="#fbbf1c"/>
<path d="M362.3 377.4C362.7 377.5 363.7 377.8 364.5 378.2C365.3 378.6 366.2 379.2 367 379.6C367.8 380 368.7 380.4 369 380.6L369 380.7L362.3 380.7L362.3 373.4L362.3 373.4Z" fill="#f3801f"/>
<path d="M362.3 379.2C362.7 379.3 363.9 379.6 364.5 379.8C365.1 380 365.8 380.5 366 380.6L366 380.7L362.3 380.7L362.3 373.4L362.3 373.4Z" fill="#ee4f22"/>
</g>
</g>
<rect x="243.1" y="373.4" width="119.2" height="4.2" fill="url(#ug)"/>
<path d="M243.1 373.4L362.3 373.4L362.3 380.7" fill="none" stroke="#283a86" stroke-width="1.1" stroke-opacity="0.9"/>
</g>
<rect x="484.3" y="97.80" width="43.5" height="28.05" fill="#e8202b"/>
<rect x="484.3" y="125.55" width="43.5" height="28.05" fill="#f05023"/>
<rect x="484.3" y="153.30" width="43.5" height="28.05" fill="#f58623"/>
<rect x="484.3" y="181.05" width="43.5" height="28.05" fill="#fcc71c"/>
<rect x="484.3" y="208.80" width="43.5" height="28.05" fill="#f8ec3c"/>
<rect x="484.3" y="236.55" width="43.5" height="28.05" fill="#a8d03a"/>
<rect x="484.3" y="264.30" width="43.5" height="28.05" fill="#62be34"/>
<rect x="484.3" y="292.05" width="43.5" height="28.05" fill="#6ecbb4"/>
<rect x="484.3" y="319.80" width="43.5" height="28.05" fill="#62c8e8"/>
<rect x="484.3" y="347.55" width="43.5" height="28.05" fill="#3e8cda"/>
<rect x="484.3" y="375.30" width="43.5" height="28.05" fill="#3462c4"/>
<rect x="484.3" y="403.05" width="43.5" height="28.05" fill="#324eb2"/>
<rect x="484.3" y="97.8" width="43.5" height="333" fill="none" stroke="#3a3a55" stroke-width="0.7" stroke-opacity="0.55"/>
<line x1="484.3" y1="125.55" x2="531.2" y2="125.55" stroke="#2c3550" stroke-width="0.8" stroke-opacity="0.75"/>
<line x1="484.3" y1="153.30" x2="531.2" y2="153.30" stroke="#2c3550" stroke-width="0.8" stroke-opacity="0.75"/>
<line x1="484.3" y1="181.05" x2="531.2" y2="181.05" stroke="#2c3550" stroke-width="0.8" stroke-opacity="0.75"/>
<line x1="484.3" y1="208.80" x2="531.2" y2="208.80" stroke="#2c3550" stroke-width="0.8" stroke-opacity="0.75"/>
<line x1="484.3" y1="236.55" x2="531.2" y2="236.55" stroke="#2c3550" stroke-width="0.8" stroke-opacity="0.75"/>
<line x1="484.3" y1="264.30" x2="531.2" y2="264.30" stroke="#2c3550" stroke-width="0.8" stroke-opacity="0.75"/>
<line x1="484.3" y1="292.05" x2="531.2" y2="292.05" stroke="#2c3550" stroke-width="0.8" stroke-opacity="0.75"/>
<line x1="484.3" y1="319.80" x2="531.2" y2="319.80" stroke="#2c3550" stroke-width="0.8" stroke-opacity="0.75"/>
<line x1="484.3" y1="347.55" x2="531.2" y2="347.55" stroke="#2c3550" stroke-width="0.8" stroke-opacity="0.75"/>
<line x1="484.3" y1="375.30" x2="531.2" y2="375.30" stroke="#2c3550" stroke-width="0.8" stroke-opacity="0.75"/>
<line x1="484.3" y1="403.05" x2="531.2" y2="403.05" stroke="#2c3550" stroke-width="0.8" stroke-opacity="0.75"/>
<line x1="478" y1="91.2" x2="606.5" y2="91.2" stroke="#55555f" stroke-width="1"/>
<text x="140.3" y="548" font-size="18.4" font-weight="bold" fill="#151515" font-family="&quot;Liberation Sans&quot;, &quot;Noto Sans CJK SC&quot;, sans-serif">图</text>
<text x="191.6" y="548" font-size="18.45" font-weight="bold" fill="#151515" textLength="276.8" lengthAdjust="spacing" font-family="&quot;Liberation Sans&quot;, &quot;Noto Sans CJK SC&quot;, sans-serif">不同电弧偏移量的焊接应力场分布</text>
<text x="490.3" y="81.3" font-size="17" fill="#151515" textLength="68.4" lengthAdjust="spacing" font-family="&quot;Liberation Serif&quot;, &quot;Noto Serif CJK SC&quot;, serif">等效应力</text>
</svg>
<div class="cap" style="left:162.6px;top:532.4px;font-weight:bold;font-size:17.8px">6</div>
<div class="cap" style="left:559.2px;top:67.2px;font-size:16.8px;letter-spacing:0.85px">/MPa</div>
<div class="cap" style="left:72.7px;top:236.6px;transform:scaleX(0.925)">(a) −0.5 mm</div>
<div class="cap" style="left:317.3px;top:236.6px;transform:scaleX(0.925)">(b) 0 mm</div>
<div class="cap" style="left:93.8px;top:502.6px;transform:scaleX(0.925)">(c) 0.3 mm</div>
<div class="cap" style="left:317.1px;top:502.1px;transform:scaleX(0.925)">(d) 0.5 mm</div>
<div class="lg" style="top:114.1px">300.00</div>
<div class="lg" style="top:142.2px">270.00</div>
<div class="lg" style="top:170.3px">240.00</div>
<div class="lg" style="top:198.3px">210.00</div>
<div class="lg" style="top:226.4px">180.00</div>
<div class="lg" style="top:254.4px">150.00</div>
<div class="lg" style="top:282.5px">120.00</div>
<div class="lg" style="top:310.6px">90.00</div>
<div class="lg" style="top:338.6px">60.00</div>
<div class="lg" style="top:366.7px">30.00</div>
<div class="lg" style="top:394.7px">0.00</div>
<div class="cap" style="left:179.3px;top:82.5px;font-size:18.3px;letter-spacing:-0.4px;color:#fff">TC4</div>
</body></html>
